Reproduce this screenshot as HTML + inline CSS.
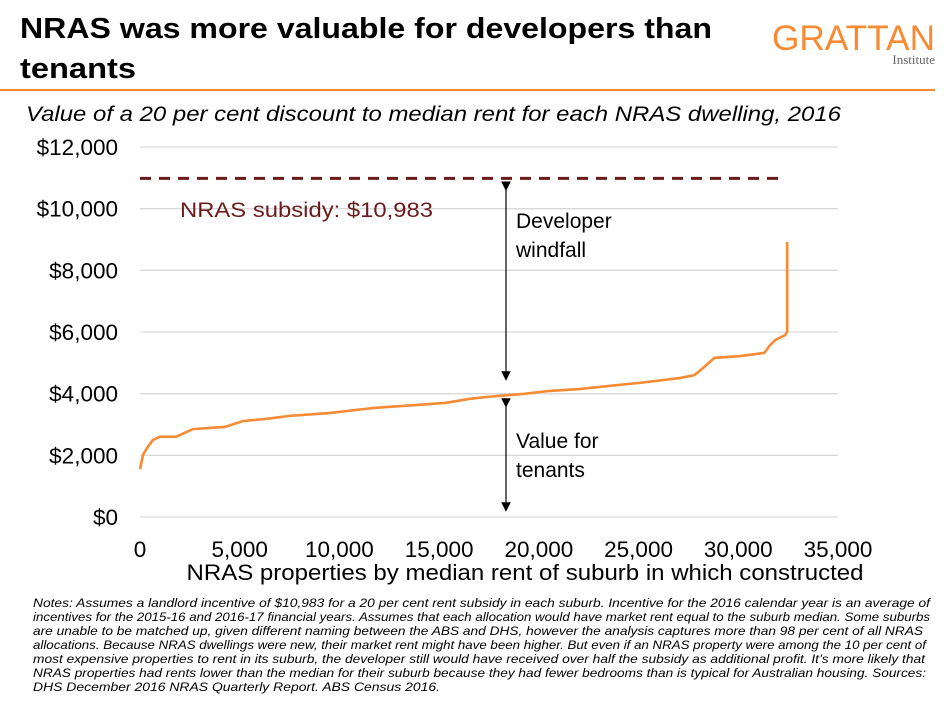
<!DOCTYPE html>
<html><head><meta charset="utf-8"><style>
body{margin:0;background:#fff;width:950px;height:709px;overflow:hidden;font-family:"Liberation Sans",sans-serif}
</style></head><body>
<svg width="950" height="709" viewBox="0 0 950 709" xmlns="http://www.w3.org/2000/svg" font-family="Liberation Sans, sans-serif">
<text x="20" y="38" font-size="29" font-weight="bold" fill="#000" textLength="692" lengthAdjust="spacingAndGlyphs">NRAS was more valuable for developers than</text>
<text x="20" y="78" font-size="29" font-weight="bold" fill="#000" textLength="116" lengthAdjust="spacingAndGlyphs">tenants</text>
<text x="935" y="50" font-size="35" fill="#F68B33" text-anchor="end" textLength="163" lengthAdjust="spacingAndGlyphs">GRATTAN</text>
<text x="935" y="64" font-size="13" fill="#666" text-anchor="end" font-family="Liberation Serif, serif">Institute</text>
<rect x="0" y="89" width="935" height="2" fill="#F68B33"/>
<text x="26" y="121" font-size="21" font-style="italic" fill="#000" textLength="815" lengthAdjust="spacingAndGlyphs">Value of a 20 per cent discount to median rent for each NRAS dwelling, 2016</text>
<g id="grid"></g>
<g id="yticks"></g>
<g id="xticks"></g>
<text x="525" y="580" font-size="22" fill="#000" text-anchor="middle" textLength="677" lengthAdjust="spacingAndGlyphs">NRAS properties by median rent of suburb in which constructed</text>
<line id="subsidy" stroke="#6B1B1B" stroke-width="3" stroke-dasharray="11,8"/>
<text x="180" y="217" font-size="21" fill="#6B1B1B" textLength="253" lengthAdjust="spacingAndGlyphs">NRAS subsidy: $10,983</text>
<polyline id="curve" fill="none" stroke="#F68B33" stroke-width="2.6"/>
<defs><marker id="ah" markerWidth="8" markerHeight="8" refX="4" refY="4" orient="auto"><path d="M0,0 L8,4 L0,8 z" fill="#000"/></marker></defs>
<line id="arr1" stroke="#000" stroke-width="1.2" marker-start="url(#ah)" marker-end="url(#ah)"/>
<line id="arr2" stroke="#000" stroke-width="1.2" marker-start="url(#ah)" marker-end="url(#ah)"/>
<text font-size="21" fill="#000"><tspan x="516" y="228">Developer</tspan><tspan x="516" y="257">windfall</tspan></text>
<text font-size="21" fill="#000"><tspan x="516" y="448">Value for</tspan><tspan x="516" y="477">tenants</tspan></text>
<g font-size="11.8" font-style="italic" fill="#000" lengthAdjust="spacingAndGlyphs">
<text x="33" y="607" textLength="897" lengthAdjust="spacingAndGlyphs">Notes: Assumes a landlord incentive of $10,983 for a 20 per cent rent subsidy in each suburb. Incentive for the 2016 calendar year is an average of</text>
<text x="33" y="621" textLength="897" lengthAdjust="spacingAndGlyphs">incentives for the 2015-16 and 2016-17 financial years. Assumes that each allocation would have market rent equal to the suburb median. Some suburbs</text>
<text x="33" y="635" textLength="890" lengthAdjust="spacingAndGlyphs">are unable to be matched up, given different naming between the ABS and DHS, however the analysis captures more than 98 per cent of all NRAS</text>
<text x="33" y="649" textLength="893" lengthAdjust="spacingAndGlyphs">allocations. Because NRAS dwellings were new, their market rent might have been higher. But even if an NRAS property were among the 10 per cent of</text>
<text x="33" y="663" textLength="892" lengthAdjust="spacingAndGlyphs">most expensive properties to rent in its suburb, the developer still would have received over half the subsidy as additional profit.  It’s more likely that</text>
<text x="33" y="677" textLength="893" lengthAdjust="spacingAndGlyphs">NRAS properties had rents lower than the median for their suburb because they had fewer bedrooms than is typical for Australian housing. Sources:</text>
<text x="33" y="691" textLength="407" lengthAdjust="spacingAndGlyphs">DHS December 2016 NRAS Quarterly Report. ABS Census 2016.</text>
</g>
</svg>
<script>
const yTickValues=[0,2000,4000,6000,8000,10000,12000];
const xTickValues=[0,5000,10000,15000,20000,25000,30000,35000];
const subsidyValue=10983;
const propX=[0,150,350,650,1000,1800,2650,4250,5150,6300,7500,9500,10800,11800,13800,15300,16500,17500,19200,20550,22050,23050,25050,27100,27800,28300,28800,30100,31300,31600,31850,32350,32450,32450];
const rentY=[1550,2010,2240,2500,2600,2600,2850,2920,3110,3180,3280,3370,3470,3540,3630,3700,3830,3900,3990,4090,4150,4220,4350,4510,4600,4870,5160,5220,5320,5580,5740,5900,6000,8920];
const X0=140,X1=838,Y0=517,Y1=147;
const sx=v=>X0+v/35000*(X1-X0);
const sy=v=>Y0-v/12000*(Y0-Y1);
const NS='http://www.w3.org/2000/svg';
const g=document.getElementById('grid'),yt=document.getElementById('yticks'),xt=document.getElementById('xticks');
yTickValues.forEach(v=>{
 const l=document.createElementNS(NS,'line');
 l.setAttribute('x1',X0);l.setAttribute('x2',X1);l.setAttribute('y1',sy(v));l.setAttribute('y2',sy(v));
 l.setAttribute('stroke','#d9d9d9');l.setAttribute('stroke-width','1.3');
 
 
 g.appendChild(l);
 const t=document.createElementNS(NS,'text');
 t.setAttribute('x',118);t.setAttribute('y',sy(v)+8);t.setAttribute('text-anchor','end');t.setAttribute('font-size','22.5');
 t.textContent='$'+v.toLocaleString('en-US');
 
 
 yt.appendChild(t);
});
xTickValues.forEach(v=>{
 const t=document.createElementNS(NS,'text');
 t.setAttribute('x',sx(v));t.setAttribute('y',557);t.setAttribute('text-anchor','middle');t.setAttribute('font-size','22.5');
 t.textContent=v.toLocaleString('en-US');
 
 
 xt.appendChild(t);
});
const s=document.getElementById('subsidy');
s.setAttribute('x1',sx(0));s.setAttribute('x2',X1-55);s.setAttribute('y1',sy(subsidyValue));s.setAttribute('y2',sy(subsidyValue));
document.getElementById('curve').setAttribute('points',propX.map((x,i)=>sx(x)+','+sy(rentY[i])).join(' '));
const ax=506;
const a1=document.getElementById('arr1');
a1.setAttribute('x1',ax);a1.setAttribute('x2',ax);a1.setAttribute('y1',sy(subsidyValue)+8);a1.setAttribute('y2',376);
const a2=document.getElementById('arr2');
a2.setAttribute('x1',ax);a2.setAttribute('x2',ax);a2.setAttribute('y1',403);a2.setAttribute('y2',Y0-10);
</script>
</body></html>
